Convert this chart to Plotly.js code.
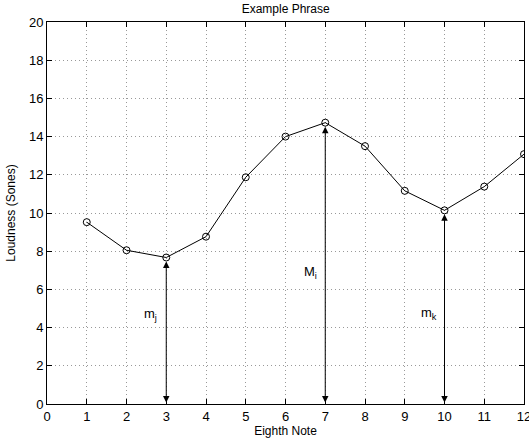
<!DOCTYPE html>
<html>
<head>
<meta charset="utf-8">
<script src="https://cdn.plot.ly/plotly-3.0.1.min.js"></script>
<style>html,body{margin:0;padding:0;background:#fff;}#chart{width:529px;height:439px;}</style>
</head>
<body>
<div id="chart"></div>
<script>
// Data
const eighthNote = [1, 2, 3, 4, 5, 6, 7, 8, 9, 10, 11, 12];
const loudness = [9.52, 8.05, 7.67, 8.76, 11.87, 14.0, 14.73, 13.5, 11.16, 10.14, 11.38, 13.08];
const arrowNotes = [3, 7, 10];
const arrowLabels = ['m<sub>j</sub>', 'M<sub>i</sub>', 'm<sub>k</sub>'];
const labelX = [2.6, 6.63, 9.6];
const labelY = [4.66, 6.9, 4.76];
const xTicks = [0,1,2,3,4,5,6,7,8,9,10,11,12];
const yTicks = [0,2,4,6,8,10,12,14,16,18,20];

const fam = 'Liberation Sans, Arial, sans-serif';
const font = {family: fam, size: 12, color: '#000'};

const trace = {
  x: eighthNote, y: loudness, type: 'scatter', mode: 'lines+markers',
  line: {color: '#000', width: 1},
  marker: {symbol: 'circle-open', size: 7, color: '#000', line: {width: 1, color: '#000'}},
  hoverinfo: 'skip', showlegend: false
};

const annotations = [];
arrowNotes.forEach((n, i) => {
  const v = loudness[eighthNote.indexOf(n)];
  annotations.push({
    x: n, y: v, xref: 'x', yref: 'y',
    ax: n, ay: 0, axref: 'x', ayref: 'y',
    text: '', showarrow: true, arrowside: 'end+start',
    arrowhead: 2, startarrowhead: 2, arrowsize: 1.3, startarrowsize: 1.3,
    arrowwidth: 1, arrowcolor: '#000', standoff: 4, startstandoff: 0
  });
  annotations.push({
    x: labelX[i], y: labelY[i], xref: 'x', yref: 'y',
    text: arrowLabels[i], showarrow: false,
    font: {family: fam, size: 13, color: '#000'}
  });
});

const axisCommon = {
  showline: true, linecolor: '#000', linewidth: 1, mirror: 'allticks',
  ticks: 'inside', ticklen: 5, tickwidth: 1, tickcolor: '#000',
  showgrid: true, gridcolor: '#999', griddash: '1px,3px', gridwidth: 1,
  zeroline: false, ticklabeloverflow: 'allow',
  tickfont: {family: fam, size: 13, color: '#000'}
};

const layout = {
  width: 529, height: 439,
  margin: {l: 47, r: 5, t: 22, b: 35},
  paper_bgcolor: '#fff', plot_bgcolor: '#fff',
  font: font,
  title: {text: 'Example Phrase', x: 0.54, xanchor: 'center', y: 0.99, yanchor: 'top', font: {family: fam, size: 12, color: '#000'}},
  xaxis: Object.assign({}, axisCommon, {
    range: [0, 12], tickvals: xTicks, ticktext: xTicks.map(String),
    title: {text: 'Eighth Note', standoff: 0, font: {family: fam, size: 12, color: '#000'}}
  }),
  yaxis: Object.assign({}, axisCommon, {
    range: [0, 20], tickvals: yTicks, ticktext: yTicks.map(String),
    title: {text: 'Loudness (Sones)', standoff: 10, font: {family: fam, size: 12, color: '#000'}}
  }),
  annotations: annotations
};

Plotly.newPlot('chart', [trace], layout, {displayModeBar: false, staticPlot: true});
</script>
</body>
</html>
